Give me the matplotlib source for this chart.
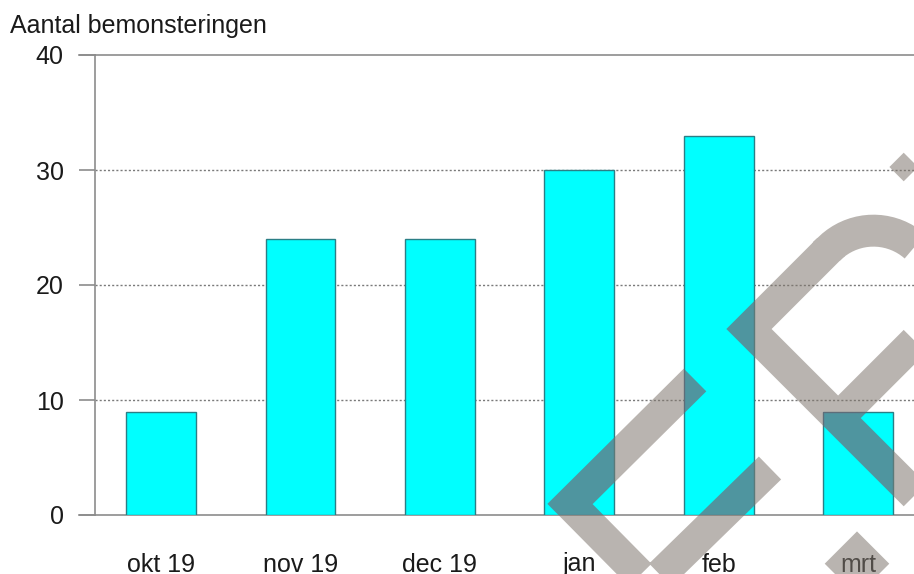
import numpy as np
import matplotlib.pyplot as plt

plt.rcParams['font.family'] = ['Liberation Sans', 'DejaVu Sans']

# ~~~~~~ Data ~~~~~~~~~~~~~~~~~~~~~~~~~~~~~~~~~~~~~~~~~~~~~~~~~~~~~~~~~~~~~~~~~

months = ['okt 19', 'nov 19', 'dec 19', 'jan', 'feb', 'mrt']
counts = [9, 24, 24, 30, 33, 9]
yticks = [0, 10, 20, 30, 40]
ylabel = 'Aantal bemonsteringen'

W, H = 914, 574
fig = plt.figure(figsize=(W / 100, H / 100), dpi=100)
ax = fig.add_axes([95 / W, 59 / H, 819 / W, 460 / H])

x = np.arange(len(months))
bars = ax.bar(x, counts, width=0.5, color='#00ffff', edgecolor='#2b7f86',
              linewidth=1.0, zorder=3)

ax.set_xlim(-0.473, 5.40)
ax.set_ylim(0, 40)
ax.set_yticks(yticks)
ax.set_xticks(x)
ax.set_xticklabels(months)

grey = '#8c8c8c'
for y in yticks[1:-1]:
    ax.axhline(y, color='#7a7a7a', lw=1.0, ls=(0, (1.5, 1.5)), zorder=1)

for side in ['left', 'bottom', 'top']:
    ax.spines[side].set_color(grey)
    ax.spines[side].set_linewidth(1.2)
ax.spines['right'].set_visible(False)

ax.tick_params(axis='y', length=11.5, width=1.2, color=grey, pad=11,
               labelsize=18, labelcolor='#1a1a1a')
ax.tick_params(axis='x', length=0, pad=27, labelsize=18, labelcolor='#1a1a1a')

# top and bottom lines stick out left like a tick
for y in [0, 40]:
    ax.plot([-0.473 - 16 / 139.4, -0.473], [y, y], color=grey, lw=1.2,
            clip_on=False, zorder=4)

fig.text(10 / W, 1 - 33 / H, ylabel, fontsize=18, color='#1a1a1a',
         ha='left', va='baseline')

# ~~~~~~ Watermark overlay (pixel coords) ~~~~~~~~~~~~~~~~~~~~~~~~~~~~~~~~~~~~~

ov = fig.add_axes([0, 0, 1, 1], zorder=10)
ov.set_xlim(0, W)
ov.set_ylim(H, 0)
ov.axis('off')
ov.patch.set_alpha(0)

a = np.array([(695, 380), (570, 504), (650, 585), (770, 468)])

c0 = np.array([749.0, 329.0])
uh = np.array([1.0, 1.0]) / np.sqrt(2)
vh = np.array([1.0, -1.0]) / np.sqrt(2)
uv = [(400, 0), (0, 0), (0, 113)]
th = np.linspace(np.pi, 0, 40)
uv += [(63 + 63 * np.cos(t), 113 + 63 * np.sin(t)) for t in th]
uv += [(126, 16)]
b = np.array([c0 + u * uh + v * vh for u, v in uv])

c = np.array([(1000, 79), (912, 167), (1000, 255)])
d = np.array([(800, 611), (857, 554), (914, 611)])

shapes = [a, b, c, d]
style = dict(lw=23, solid_capstyle='butt', solid_joinstyle='miter')

for s in shapes:
    ov.plot(s[:, 0], s[:, 1], color='#80776f', alpha=0.55, **style)

# darker tint where the watermark crosses the cyan bars
for bar in bars:
    for s in shapes:
        ln, = ov.plot(s[:, 0], s[:, 1], color='#67507a', alpha=0.3, **style)
        ln.set_clip_path(bar)

fig.savefig('out.png', dpi=100)
